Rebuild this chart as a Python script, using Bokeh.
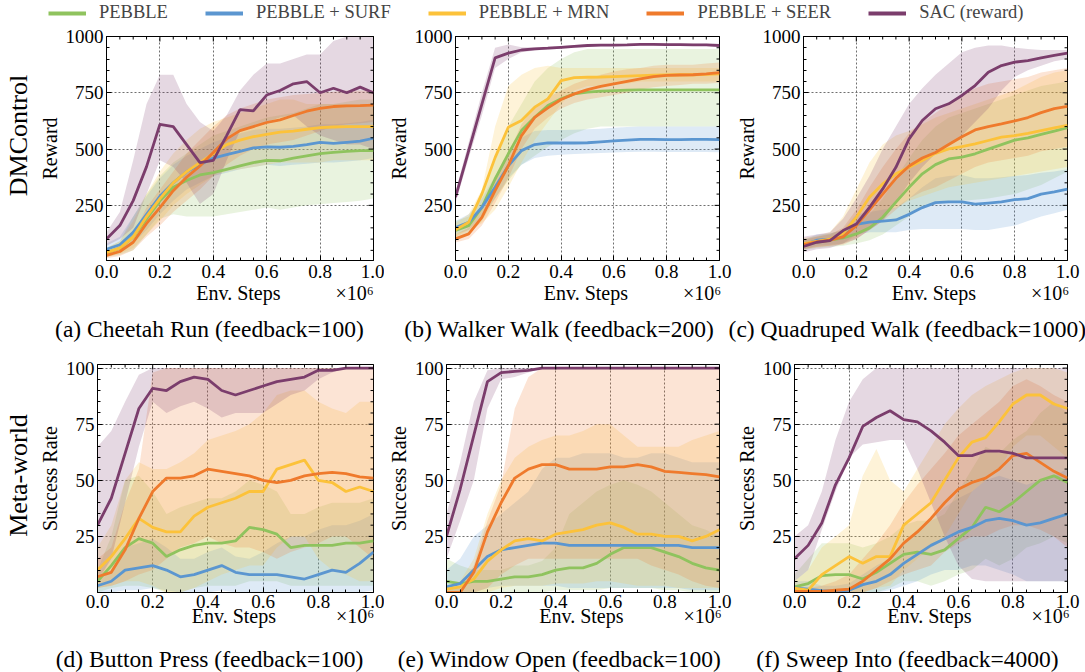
from bokeh.plotting import figure
from bokeh.models import Range1d, FixedTicker, Legend, LegendItem, PrintfTickFormatter, Title
from bokeh.layouts import column, row
from bokeh.embed import file_html
from bokeh.resources import INLINE
from bokeh.core.properties import value

FONT = "Liberation Serif"

# ---------------- data ----------------
STEPS = [0.0, 0.05, 0.1, 0.15, 0.2, 0.25, 0.3, 0.35, 0.4, 0.45, 0.5,
         0.55, 0.6, 0.65, 0.7, 0.75, 0.8, 0.85, 0.9, 0.95, 1.0]  # x 1e6 env steps

METHODS = ["PEBBLE", "PEBBLE + SURF", "PEBBLE + MRN", "PEBBLE + SEER", "SAC (reward)"]
COLORS = ["#8fc35e", "#5b96d0", "#fcc23a", "#ef7a2c", "#7b3d6c"]

X_MAJOR = [0.0, 0.2, 0.4, 0.6, 0.8, 1.0]
X_MINOR = [0.05, 0.1, 0.15, 0.25, 0.3, 0.35, 0.45, 0.5, 0.55, 0.65, 0.7, 0.75, 0.85, 0.9, 0.95]
REWARD_MAJOR = [250, 500, 750, 1000]
REWARD_MINOR = [50, 100, 150, 200, 300, 350, 400, 450, 550, 600, 650, 700, 800, 850, 900, 950]
SUCCESS_MAJOR = [25, 50, 75, 100]
SUCCESS_MINOR = [5, 10, 15, 20, 30, 35, 40, 45, 55, 60, 65, 70, 80, 85, 90, 95]

# (a) Cheetah Run
CR_PEBBLE = [40, 60, 110, 190, 270, 330, 360, 385, 395, 410, 425, 440, 450, 448, 460, 470, 480, 485, 490, 493, 493]
CR_PEBBLE_LO = [20, 30, 50, 120, 190, 210, 200, 200, 200, 210, 220, 230, 240, 230, 240, 250, 255, 260, 265, 270, 280]
CR_PEBBLE_HI = [60, 90, 200, 300, 380, 440, 480, 520, 560, 580, 600, 620, 640, 650, 660, 680, 700, 700, 710, 720, 720]
CR_SURF = [55, 75, 130, 210, 290, 350, 400, 430, 460, 475, 490, 505, 510, 508, 512, 520, 530, 525, 530, 535, 548]
CR_SURF_LO = [30, 45, 80, 140, 210, 270, 320, 350, 380, 395, 410, 420, 430, 425, 430, 435, 440, 440, 445, 450, 460]
CR_SURF_HI = [80, 110, 200, 290, 370, 430, 470, 500, 530, 550, 570, 585, 590, 590, 595, 600, 610, 610, 615, 620, 630]
CR_MRN = [40, 60, 110, 200, 280, 350, 400, 440, 480, 520, 540, 555, 565, 575, 580, 588, 595, 598, 600, 600, 600]
CR_MRN_LO = [20, 35, 60, 120, 180, 250, 300, 340, 380, 400, 410, 420, 430, 440, 440, 440, 440, 450, 450, 450, 450]
CR_MRN_HI = [60, 90, 180, 300, 400, 480, 540, 590, 620, 640, 660, 680, 700, 720, 720, 700, 700, 700, 700, 700, 700]
CR_SEER = [28, 45, 86, 170, 240, 315, 375, 425, 485, 545, 582, 600, 618, 630, 649, 668, 681, 689, 692, 693, 695]
CR_SEER_LO = [15, 25, 50, 110, 160, 220, 270, 320, 380, 430, 470, 500, 520, 530, 540, 560, 580, 600, 610, 615, 620]
CR_SEER_HI = [45, 70, 120, 240, 320, 400, 480, 540, 600, 650, 680, 700, 720, 730, 740, 745, 750, 755, 760, 760, 760]
CR_SAC = [101, 160, 271, 422, 610, 600, 520, 440, 450, 560, 675, 670, 740, 760, 790, 800, 750, 770, 750, 775, 750]
CR_SAC_LO = [70, 100, 150, 300, 450, 420, 350, 256, 300, 450, 580, 600, 620, 640, 650, 600, 560, 540, 520, 520, 500]
CR_SAC_HI = [130, 220, 450, 700, 830, 830, 700, 620, 580, 650, 760, 830, 880, 880, 900, 920, 920, 980, 1000, 1000, 1000]

# (b) Walker Walk
WW_PEBBLE = [138, 160, 241, 367, 479, 582, 641, 693, 723, 745, 753, 757, 760, 762, 763, 763, 763, 763, 763, 763, 763]
WW_PEBBLE_LO = [100, 120, 180, 280, 360, 430, 470, 510, 540, 570, 590, 600, 600, 600, 600, 600, 600, 600, 600, 600, 600]
WW_PEBBLE_HI = [180, 200, 300, 450, 600, 700, 800, 860, 900, 930, 945, 945, 945, 945, 945, 945, 945, 945, 945, 945, 945]
WW_SURF = [151, 175, 241, 330, 426, 493, 520, 527, 527, 527, 528, 532, 536, 540, 543, 543, 542, 542, 543, 543, 542]
WW_SURF_LO = [120, 140, 200, 280, 370, 430, 460, 470, 475, 478, 480, 482, 485, 487, 488, 488, 487, 487, 487, 487, 486]
WW_SURF_HI = [180, 210, 280, 380, 480, 550, 580, 585, 585, 586, 588, 590, 595, 598, 600, 600, 600, 600, 600, 600, 600]
WW_MRN = [141, 175, 301, 462, 597, 627, 686, 723, 804, 817, 819, 820, 822, 824, 826, 828, 829, 830, 830, 832, 834]
WW_MRN_LO = [110, 140, 170, 230, 330, 440, 540, 620, 700, 760, 780, 780, 790, 790, 800, 800, 800, 800, 800, 800, 800]
WW_MRN_HI = [170, 210, 320, 600, 780, 830, 860, 870, 860, 860, 860, 860, 860, 860, 860, 860, 860, 860, 860, 860, 860]
WW_SEER = [101, 123, 197, 315, 426, 560, 641, 683, 720, 745, 764, 778, 790, 801, 812, 822, 827, 829, 830, 834, 840]
WW_SEER_LO = [85, 100, 160, 260, 370, 500, 590, 640, 680, 705, 720, 730, 740, 750, 765, 775, 780, 785, 790, 790, 795]
WW_SEER_HI = [120, 150, 230, 370, 480, 610, 690, 730, 760, 790, 810, 830, 845, 855, 860, 870, 875, 875, 875, 880, 885]
WW_SAC = [286, 493, 700, 905, 926, 940, 945, 948, 952, 956, 960, 962, 962, 963, 965, 965, 964, 964, 963, 963, 960]
WW_SAC_LO = [260, 460, 650, 860, 900, 930, 938, 942, 946, 950, 955, 957, 957, 958, 960, 960, 959, 959, 958, 958, 955]
WW_SAC_HI = [310, 530, 750, 950, 965, 952, 952, 955, 958, 962, 965, 967, 967, 968, 970, 970, 969, 969, 968, 968, 965]

# (c) Quadruped Walk
QW_PEBBLE = [75, 85, 95, 105, 123, 150, 197, 264, 330, 390, 431, 456, 464, 479, 500, 520, 540, 550, 565, 580, 595]
QW_PEBBLE_LO = [50, 60, 65, 70, 80, 95, 120, 160, 200, 240, 260, 270, 270, 275, 280, 290, 300, 320, 340, 370, 400]
QW_PEBBLE_HI = [100, 110, 125, 140, 170, 210, 280, 370, 460, 540, 600, 640, 660, 680, 700, 720, 740, 760, 780, 790, 800]
QW_SURF = [75, 95, 100, 110, 165, 175, 180, 185, 210, 240, 262, 265, 265, 255, 260, 265, 275, 280, 300, 310, 322]
QW_SURF_LO = [55, 70, 75, 80, 120, 130, 130, 130, 140, 145, 145, 145, 145, 140, 140, 150, 160, 180, 200, 215, 230]
QW_SURF_HI = [95, 120, 125, 140, 210, 220, 230, 240, 280, 330, 370, 380, 385, 370, 370, 375, 380, 385, 395, 400, 410]
QW_MRN = [80, 90, 100, 125, 197, 286, 345, 390, 419, 449, 481, 501, 511, 523, 538, 553, 560, 570, 582, 594, 605]
QW_MRN_LO = [55, 65, 70, 80, 110, 150, 200, 240, 270, 290, 310, 330, 340, 350, 360, 370, 380, 390, 400, 410, 420]
QW_MRN_HI = [105, 115, 130, 200, 320, 440, 520, 560, 580, 610, 640, 660, 680, 700, 720, 740, 760, 790, 820, 840, 850]
QW_SEER = [75, 88, 95, 110, 160, 230, 300, 370, 425, 460, 485, 520, 555, 585, 600, 612, 625, 640, 662, 680, 690]
QW_SEER_LO = [55, 65, 70, 75, 100, 140, 180, 230, 280, 310, 330, 360, 390, 420, 440, 450, 460, 470, 490, 500, 510]
QW_SEER_HI = [95, 110, 120, 150, 230, 330, 420, 500, 570, 620, 660, 700, 740, 770, 790, 800, 810, 820, 840, 850, 860]
QW_SAC = [67, 86, 93, 138, 167, 241, 323, 419, 545, 627, 679, 701, 738, 782, 841, 871, 886, 893, 905, 916, 926]
QW_SAC_LO = [40, 55, 60, 80, 100, 140, 180, 260, 350, 420, 480, 520, 560, 620, 680, 760, 820, 850, 870, 890, 900]
QW_SAC_HI = [110, 120, 130, 190, 280, 380, 500, 600, 700, 770, 830, 880, 930, 950, 960, 960, 950, 945, 940, 940, 940]

# (d) Button Press
BP_PEBBLE = [5, 12, 20, 24, 22, 16, 19, 21, 22, 22, 23, 29, 28, 26, 20, 21, 21, 21, 22, 22, 23]
BP_PEBBLE_LO = [0, 2, 3, 3, 2, 0, 0, 2, 3, 3, 3, 5, 5, 5, 3, 3, 3, 3, 3, 3, 3]
BP_PEBBLE_HI = [10, 25, 50, 52, 45, 35, 38, 40, 42, 42, 45, 50, 48, 45, 35, 35, 38, 40, 40, 40, 42]
BP_SURF = [3, 5, 10, 11, 12, 10, 7, 8, 10, 12, 9, 8, 8, 8, 7, 6, 8, 10, 9, 13, 18]
BP_SURF_LO = [0, 0, 1, 1, 2, 1, 0, 0, 0, 1, 0, 0, 0, 0, 0, 0, 0, 0, 0, 0, 1]
BP_SURF_HI = [5, 10, 20, 22, 24, 20, 15, 15, 18, 20, 16, 15, 18, 22, 25, 25, 28, 30, 30, 32, 35]
BP_MRN = [10, 16, 24, 33, 29, 27, 27, 34, 38, 40, 42, 45, 45, 55, 57, 59, 50, 49, 45, 47, 45]
BP_MRN_LO = [2, 3, 5, 5, 3, 0, 0, 2, 5, 8, 10, 12, 12, 20, 25, 25, 15, 10, 8, 5, 5]
BP_MRN_HI = [20, 30, 50, 58, 55, 55, 58, 62, 68, 70, 72, 75, 80, 88, 90, 90, 85, 82, 80, 85, 85]
BP_SEER = [7, 9, 19, 33, 45, 51, 51, 52, 55, 54, 53, 52, 50, 49, 50, 52, 53, 53.5, 53, 51.5, 51]
BP_SEER_LO = [2, 3, 5, 8, 10, 15, 20, 22, 25, 22, 20, 20, 18, 15, 18, 20, 22, 25, 25, 20, 15]
BP_SEER_HI = [15, 20, 40, 55, 98, 100, 100, 100, 100, 100, 100, 100, 100, 100, 100, 100, 100, 100, 100, 100, 100]
BP_SAC = [30, 42, 62, 82, 91, 90, 94, 96, 95, 90, 88, 90, 92, 94, 95, 96, 99, 99, 100, 100, 100]
BP_SAC_LO = [5, 15, 40, 65, 85, 80, 83, 85, 82, 78, 80, 80, 80, 84, 88, 90, 95, 98, 100, 100, 100]
BP_SAC_HI = [65, 72, 85, 97, 100, 100, 100, 100, 100, 100, 100, 100, 100, 100, 100, 100, 100, 100, 100, 100, 100]

# (e) Window Open
WO_PEBBLE = [5, 4, 5, 5, 6, 7, 7, 8, 10, 11, 11, 13, 17, 20, 20, 20, 18, 16, 13, 11, 10]
WO_PEBBLE_LO = [0, 0, 0, 0, 0, 0, 0, 0, 1, 1, 1, 1, 2, 2, 2, 2, 1, 1, 0, 0, 0]
WO_PEBBLE_HI = [15, 12, 10, 10, 10, 12, 12, 14, 20, 35, 40, 45, 48, 50, 48, 45, 40, 35, 30, 28, 25]
WO_SURF = [2.5, 4, 10, 16, 19, 20, 21, 22, 22, 21, 21, 21, 21, 21, 21, 21, 21, 21, 20, 20, 20]
WO_SURF_LO = [0, 0, 0, 2, 3, 3, 3, 3, 3, 2, 2, 2, 2, 2, 2, 2, 2, 2, 1, 1, 1]
WO_SURF_HI = [10, 15, 25, 30, 35, 40, 45, 55, 60, 60, 62, 62, 62, 60, 60, 62, 62, 60, 58, 58, 58]
WO_MRN = [1.5, 2.5, 6, 14, 19, 23, 24, 23, 26, 27, 28, 30, 31, 29, 26, 26, 25, 25, 23, 25, 28]
WO_MRN_LO = [0, 0, 0, 0, 2, 3, 3, 3, 4, 4, 4, 5, 5, 4, 3, 3, 3, 2, 2, 2, 2]
WO_MRN_HI = [3, 5, 15, 35, 50, 60, 65, 68, 70, 70, 72, 75, 75, 70, 65, 65, 65, 65, 68, 70, 72]
WO_SEER = [0, 0, 9, 27, 40, 51, 55, 57, 57, 55, 55, 55, 56, 56, 57, 56, 54, 53.5, 53, 52.5, 51.5]
WO_SEER_LO = [0, 0, 0, 2, 8, 12, 15, 15, 15, 15, 15, 15, 15, 15, 15, 12, 10, 8, 5, 3, 2]
WO_SEER_HI = [1, 3, 12, 32, 48, 82, 96, 100, 100, 100, 100, 100, 100, 100, 100, 100, 100, 100, 100, 100, 100]
WO_SAC = [25, 46, 70, 94, 98, 98.5, 99, 100, 100, 100, 100, 100, 100, 100, 100, 100, 100, 100, 100, 100, 100]
WO_SAC_LO = [15, 32, 50, 82, 95, 96, 98, 100, 100, 100, 100, 100, 100, 100, 100, 100, 100, 100, 100, 100, 100]
WO_SAC_HI = [35, 58, 85, 99, 100, 100, 100, 100, 100, 100, 100, 100, 100, 100, 100, 100, 100, 100, 100, 100, 100]

# (f) Sweep Into
SI_PEBBLE = [2.5, 4, 7.5, 8, 8, 6, 9, 13, 17, 18, 17, 19, 24, 29, 38, 36, 40, 45, 50, 52, 49]
SI_PEBBLE_LO = [0, 0, 0, 0, 0, 0, 0, 2, 5, 5, 3, 5, 8, 10, 15, 12, 15, 20, 22, 25, 22]
SI_PEBBLE_HI = [8, 15, 22, 22, 22, 20, 22, 25, 30, 32, 32, 35, 45, 55, 65, 62, 68, 72, 80, 85, 80]
SI_SURF = [2, 1.5, 0.8, 0.6, 1, 3.5, 5, 8, 13, 17, 21, 24, 27, 29, 32, 33, 32, 30, 31, 33, 35]
SI_SURF_LO = [0, 0, 0, 0, 0, 0, 0, 1, 3, 5, 8, 10, 10, 12, 12, 10, 8, 5, 5, 5, 5]
SI_SURF_HI = [5, 5, 3, 3, 4, 8, 12, 15, 22, 28, 33, 38, 42, 45, 50, 52, 50, 48, 50, 52, 55]
SI_MRN = [2, 1, 8, 12, 16, 13, 16, 16, 30, 35, 40, 50, 60, 67, 69, 76, 84, 88, 88, 84, 82]
SI_MRN_LO = [0, 0, 0, 0, 0, 0, 2, 3, 10, 15, 20, 25, 35, 45, 50, 55, 65, 70, 70, 65, 60]
SI_MRN_HI = [5, 10, 20, 25, 30, 52, 64, 50, 45, 55, 65, 75, 82, 88, 92, 95, 98, 100, 100, 100, 98]
SI_SEER = [0.5, 0.5, 0.5, 1, 1.5, 5, 10, 15, 22, 27, 33, 40, 46, 49, 51, 55, 61, 62, 58, 54, 51]
SI_SEER_LO = [0, 0, 0, 0, 0, 0, 2, 5, 8, 10, 12, 18, 22, 25, 25, 28, 30, 30, 28, 25, 20]
SI_SEER_HI = [2, 2, 3, 5, 8, 15, 22, 30, 40, 48, 55, 62, 70, 75, 80, 85, 92, 95, 92, 88, 85]
SI_SAC = [15, 21, 31, 48, 60, 74, 78, 81, 77, 76, 72, 67, 61, 61, 63, 63, 62, 60, 60, 60, 60]
SI_SAC_LO = [5, 10, 28, 45, 60, 66, 67, 68, 68, 55, 40, 25, 12, 6, 5, 5, 5, 5, 5, 5, 5]
SI_SAC_HI = [25, 30, 45, 68, 85, 95, 100, 100, 100, 100, 100, 100, 100, 100, 100, 100, 100, 100, 100, 100, 100]

CAPTIONS = ["(a) Cheetah Run (feedback=100)", "(b) Walker Walk (feedback=200)",
            "(c) Quadruped Walk (feedback=1000)", "(d) Button Press (feedback=100)",
            "(e) Window Open (feedback=100)", "(f) Sweep Into (feedback=4000)"]
ROW_LABELS = ["DMControl", "Meta-world"]
Y_LABELS = ["Reward", "Success Rate"]
X_LABEL = "Env. Steps"
X_SCALE = "\u00d710\u2076"

# ---------------- text width helper (Times / Liberation Serif metrics) ----------------
_W = {' ': 250, '\u00a0': 250, '(': 333, ')': 333, '=': 564, '.': 250, '-': 333, '+': 564,
      '\u00d7': 564, '\u2076': 330,
      'a': 444, 'b': 500, 'c': 444, 'd': 500, 'e': 444, 'f': 333, 'g': 500, 'h': 500, 'i': 278,
      'k': 500, 'l': 278, 'm': 778, 'n': 500, 'o': 500, 'p': 500, 'r': 333, 's': 389, 't': 278,
      'u': 500, 'v': 500, 'w': 722, 'x': 500, 'y': 500, 'q': 500,
      'B': 667, 'C': 667, 'D': 722, 'E': 611, 'M': 889, 'N': 722, 'O': 722, 'P': 556, 'Q': 722,
      'R': 667, 'S': 556, 'W': 944, 'L': 611, 'F': 556, 'U': 722, 'A': 722}


def text_w(s, size):
    return sum(_W.get(ch, 500) for ch in s) / 1000.0 * size


def x_label_with_scale(fw, size):
    """'Env. Steps' centred on the frame and 'x10^6' flush with the frame's right edge."""
    sp = 0.25 * size
    we, wx = text_w(X_LABEL, size), text_w(X_SCALE, size)
    total = fw - 2
    pad_l = max(0, round((total / 2 - we / 2) / sp))
    pad_m = max(1, round((total - pad_l * sp - we - wx) / sp))
    return "\u00a0" * pad_l + X_LABEL + "\u00a0" * pad_m + X_SCALE


# ---------------- layout geometry (page px) ----------------
LABEL_PX = 20
LEG_H = 26
CAP1_H = 35
CAP2_H = 36
ROW1 = dict(h=284, top=10, bottom=50, yr=(5, 1000), major=REWARD_MAJOR, minor=REWARD_MINOR,
            ylab=Y_LABELS[0], tl_so=4, xl_so=1, rl_cy=135)
ROW2 = dict(h=291, top=19, bottom=44, yr=(0, 101.6), major=SUCCESS_MAJOR, minor=SUCCESS_MINOR,
            ylab=Y_LABELS[1], tl_so=2, xl_so=-6, rl_cy=475)
COLS1 = [(384, 103, 11), (348, 66, 13), (353, 66, 18)]
COLS2 = [(384, 94, 11), (348, 57, 13), (353, 56, 18)]
CAP_CX = [209, 559, 907]  # page x of caption centres


def make_panel(series, rowspec, ci, cols, page_top, row_label=None):
    w, L, R = cols[ci]
    H = rowspec["h"]
    T, B = rowspec["top"], rowspec["bottom"]
    y0, y1 = rowspec["yr"]
    fw = w - L - R
    fh = H - T - B
    ft = page_top + T
    fb = ft + fh
    px_x = 1.0 / fw
    px_y = (y1 - y0) / fh

    p = figure(width=w, height=H, x_range=Range1d(0, 1), y_range=Range1d(y0, y1),
               output_backend="svg", toolbar_location=None,
               min_border_left=L, min_border_right=R, min_border_top=T, min_border_bottom=B)
    p.background_fill_color = "white"
    p.border_fill_color = "white"
    p.outline_line_color = "black"
    p.outline_line_width = 1

    xt = FixedTicker(ticks=X_MAJOR, minor_ticks=X_MINOR)
    yt = FixedTicker(ticks=rowspec["major"], minor_ticks=rowspec["minor"])
    xa, ya = p.xaxis[0], p.yaxis[0]
    xa.ticker = xt
    ya.ticker = yt
    xa.formatter = PrintfTickFormatter(format="%.1f")
    for ax in (xa, ya):
        ax.axis_line_color = "black"
        ax.major_tick_line_color = "black"
        ax.minor_tick_line_color = "black"
        ax.major_tick_in = 5
        ax.major_tick_out = 0
        ax.minor_tick_in = 3
        ax.minor_tick_out = 0
        ax.major_label_text_font = FONT
        ax.major_label_text_font_size = "19px"
        ax.major_label_text_color = "black"
        ax.axis_label_text_font = FONT
        ax.axis_label_text_font_size = "%dpx" % LABEL_PX
        ax.axis_label_text_font_style = "normal"
        ax.axis_label_text_color = "black"
    xa.major_label_standoff = rowspec["tl_so"]
    ya.major_label_standoff = 3
    xa.axis_label = x_label_with_scale(fw, LABEL_PX)
    xa.axis_label_standoff = rowspec["xl_so"]
    ya.axis_label = rowspec["ylab"]
    ya.axis_label_standoff = 2

    p.xgrid.ticker = xt
    p.ygrid.ticker = yt
    for g in (p.xgrid, p.ygrid):
        g.grid_line_color = "#6f6f6f"
        g.grid_line_dash = "2 2"
        g.grid_line_width = 1

    for (mean, lo, hi), c in zip(series, COLORS):
        p.varea(x=STEPS, y1=lo, y2=hi, fill_color=c, fill_alpha=0.2)
    for (mean, lo, hi), c in zip(series, COLORS):
        p.line(x=STEPS, y=mean, line_color=c, line_width=2.8)

    # inward ticks on the top and right edges
    ym, yn = rowspec["major"], rowspec["minor"]
    p.segment(x0=X_MAJOR, y0=[y1] * len(X_MAJOR), x1=X_MAJOR, y1=[y1 - 5 * px_y] * len(X_MAJOR),
              line_color="black", line_width=1, level="overlay")
    p.segment(x0=X_MINOR, y0=[y1] * len(X_MINOR), x1=X_MINOR, y1=[y1 - 3 * px_y] * len(X_MINOR),
              line_color="black", line_width=1, level="overlay")
    p.segment(x0=[1.0] * len(ym), y0=ym, x1=[1.0 - 5 * px_x] * len(ym), y1=ym,
              line_color="black", line_width=1, level="overlay")
    p.segment(x0=[1.0] * len(yn), y0=yn, x1=[1.0 - 3 * px_x] * len(yn), y1=yn,
              line_color="black", line_width=1, level="overlay")

    if row_label:
        wl = text_w(row_label, 26)
        off = fb - rowspec["rl_cy"] - wl / 2
        p.add_layout(Title(text=row_label, align="left", offset=off, vertical_align="middle",
                           standoff=4, text_font=FONT, text_font_size="26px",
                           text_font_style="normal", text_color="black"), "left")
    return p


def caption_strip(height, caps, cy_from_top):
    s = figure(width=1085, height=height, x_range=Range1d(0, 1085), y_range=Range1d(0, height),
               x_axis_type=None, y_axis_type=None, output_backend="svg", toolbar_location=None,
               min_border=0)
    s.outline_line_color = None
    s.grid.visible = False
    s.text(x=CAP_CX, y=[height - cy_from_top] * len(caps), text=caps,
           text_font=value(FONT), text_font_size="23.5px", text_align="center",
           text_baseline="middle", text_color="black")
    return s


PANEL_SERIES = [
    [(CR_PEBBLE, CR_PEBBLE_LO, CR_PEBBLE_HI), (CR_SURF, CR_SURF_LO, CR_SURF_HI),
     (CR_MRN, CR_MRN_LO, CR_MRN_HI), (CR_SEER, CR_SEER_LO, CR_SEER_HI), (CR_SAC, CR_SAC_LO, CR_SAC_HI)],
    [(WW_PEBBLE, WW_PEBBLE_LO, WW_PEBBLE_HI), (WW_SURF, WW_SURF_LO, WW_SURF_HI),
     (WW_MRN, WW_MRN_LO, WW_MRN_HI), (WW_SEER, WW_SEER_LO, WW_SEER_HI), (WW_SAC, WW_SAC_LO, WW_SAC_HI)],
    [(QW_PEBBLE, QW_PEBBLE_LO, QW_PEBBLE_HI), (QW_SURF, QW_SURF_LO, QW_SURF_HI),
     (QW_MRN, QW_MRN_LO, QW_MRN_HI), (QW_SEER, QW_SEER_LO, QW_SEER_HI), (QW_SAC, QW_SAC_LO, QW_SAC_HI)],
    [(BP_PEBBLE, BP_PEBBLE_LO, BP_PEBBLE_HI), (BP_SURF, BP_SURF_LO, BP_SURF_HI),
     (BP_MRN, BP_MRN_LO, BP_MRN_HI), (BP_SEER, BP_SEER_LO, BP_SEER_HI), (BP_SAC, BP_SAC_LO, BP_SAC_HI)],
    [(WO_PEBBLE, WO_PEBBLE_LO, WO_PEBBLE_HI), (WO_SURF, WO_SURF_LO, WO_SURF_HI),
     (WO_MRN, WO_MRN_LO, WO_MRN_HI), (WO_SEER, WO_SEER_LO, WO_SEER_HI), (WO_SAC, WO_SAC_LO, WO_SAC_HI)],
    [(SI_PEBBLE, SI_PEBBLE_LO, SI_PEBBLE_HI), (SI_SURF, SI_SURF_LO, SI_SURF_HI),
     (SI_MRN, SI_MRN_LO, SI_MRN_HI), (SI_SEER, SI_SEER_LO, SI_SEER_HI), (SI_SAC, SI_SAC_LO, SI_SAC_HI)],
]

row1_top = LEG_H
row2_top = LEG_H + ROW1["h"] + CAP1_H
figs1 = [make_panel(PANEL_SERIES[i], ROW1, i, COLS1, row1_top,
                    ROW_LABELS[0] if i == 0 else None) for i in range(3)]
figs2 = [make_panel(PANEL_SERIES[3 + i], ROW2, i, COLS2, row2_top,
                    ROW_LABELS[1] if i == 0 else None) for i in range(3)]
cap1 = caption_strip(CAP1_H, CAPTIONS[:3], 18)
cap2 = caption_strip(CAP2_H, CAPTIONS[3:], 22)

# legend strip
lp = figure(width=1085, height=LEG_H, x_axis_type=None, y_axis_type=None,
            x_range=Range1d(0, 1), y_range=Range1d(0, 1),
            output_backend="svg", toolbar_location=None, min_border=0)
lp.outline_line_color = None
lp.grid.visible = False
items = []
for m, c in zip(METHODS, COLORS):
    r = lp.line(x=[-3, -2], y=[-3, -3], line_color=c, line_width=4)
    items.append(LegendItem(label=m, renderers=[r]))
legend = Legend(items=items, orientation="horizontal", location=(48, 3),
                border_line_alpha=0, background_fill_alpha=0,
                label_text_font=FONT, label_text_font_size="18.5px",
                glyph_width=38, glyph_height=18, label_height=18, label_standoff=13,
                spacing=37, padding=0, margin=0)
lp.add_layout(legend, "center")

layout = column(lp, row(*figs1), cap1, row(*figs2), cap2)
open("out.html", "w").write(file_html(layout, INLINE))
